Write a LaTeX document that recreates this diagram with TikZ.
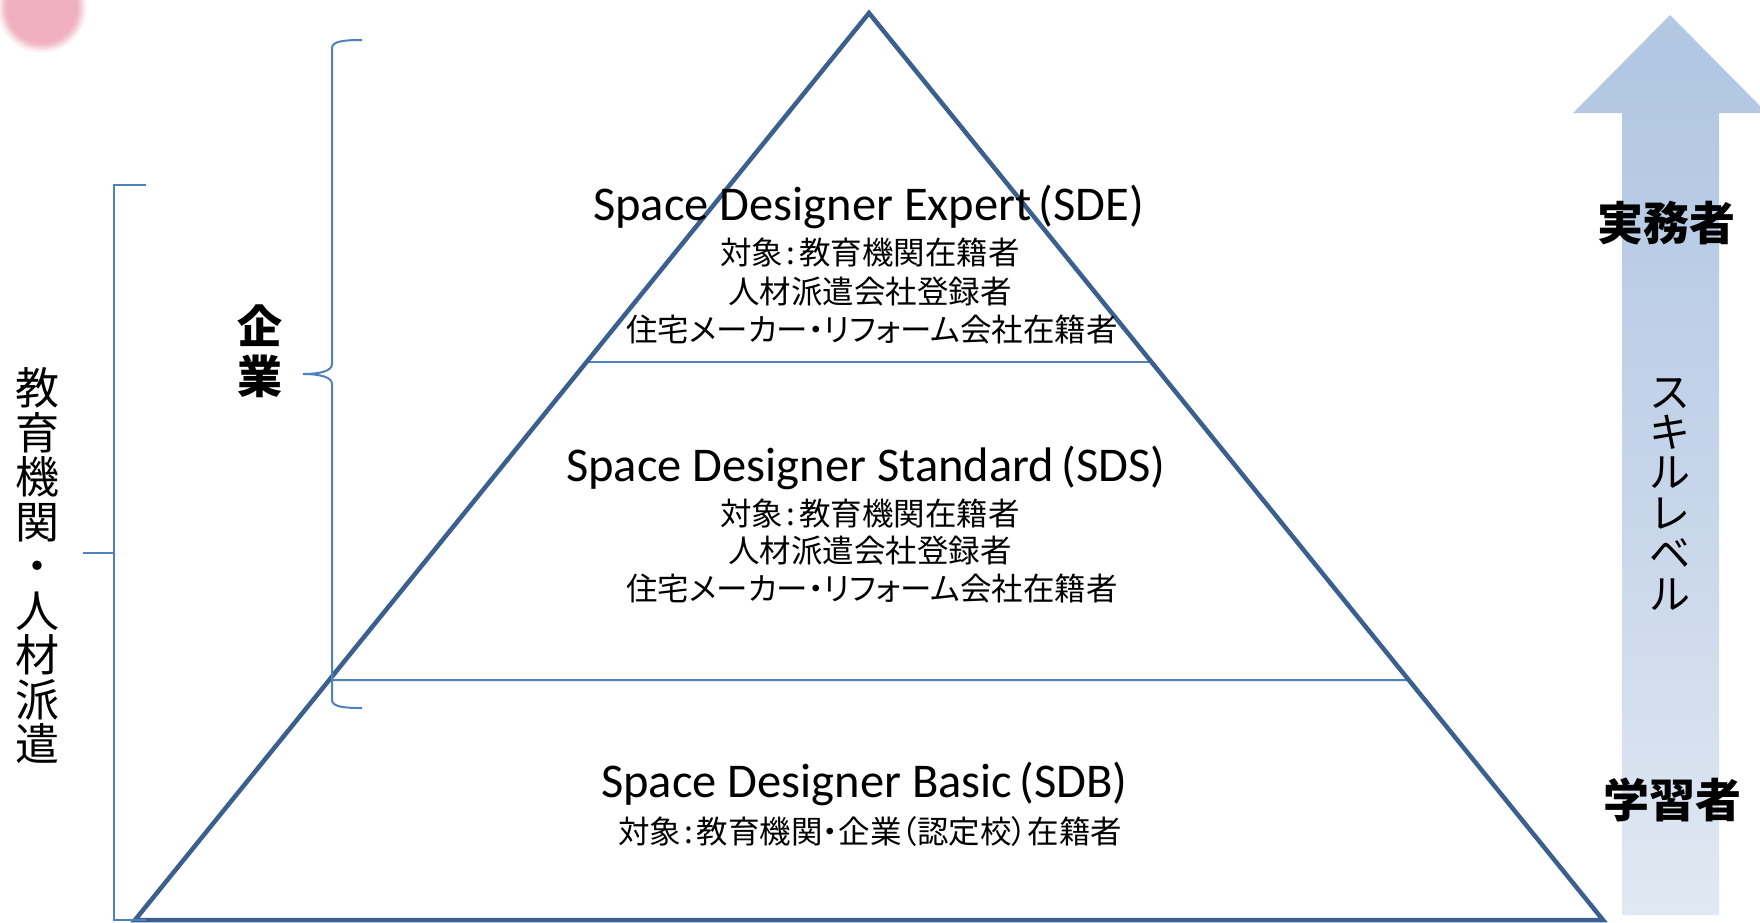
\documentclass[tikz,border=0pt]{standalone}
\usepackage{fontspec}
\usetikzlibrary{calc}
\setmainfont{Carlito}
\newfontfamily\jp{Noto Sans CJK JP}
\newfontfamily\jpp{Noto Sans CJK JP}[RawFeature=+palt]
\newcommand{\jcolon}{\makebox[.5em]{:}}
\newcommand{\abbr}[1]{\hspace{0.15em}(#1)}

\definecolor{triblue}{RGB}{59,95,143}
\definecolor{lineblue}{RGB}{79,129,189}
\definecolor{pinkdot}{RGB}{240,176,192}
\definecolor{fadeA}{RGB}{252,253,255}
\definecolor{fadeB}{RGB}{226,233,243}
\definecolor{fadeC}{RGB}{197,212,233}
\definecolor{fadeD}{RGB}{178,199,227}
\definecolor{fadeE}{RGB}{184,203,229}
\definecolor{fadeF}{RGB}{200,215,234}

\pgfdeclareverticalshading{skillfade}{100bp}{%
  color(0bp)=(fadeA); color(24bp)=(fadeB); color(50bp)=(fadeC);
  color(72bp)=(fadeD); color(88bp)=(fadeE); color(100bp)=(fadeF)}

\begin{document}
\begin{tikzpicture}[x=1pt,y=-1pt,
  tri/.style={draw=triblue, line width=4.5pt, line join=miter},
  tier/.style={draw=lineblue, line width=2pt},
  bracket/.style={draw=lineblue, line width=2pt},
  ttl/.style={inner sep=0pt, anchor=base west, font=\fontsize{48.5}{54}\selectfont},
  sub/.style={inner sep=0pt, anchor=base, font=\jpp\fontsize{31.5}{38}\selectfont},
  vtext/.style={inner sep=0pt, align=center},
  boldlbl/.style={inner sep=0pt, font=\jp\bfseries\fontsize{46}{50}\selectfont}]

\useasboundingbox (0,0) rectangle (1760,922);

% soft pink dot in the corner
\foreach \r/\o in {45/0.12, 43/0.22, 41/0.32, 39/0.45, 37/0.65, 35/1}
  \fill[pinkdot, opacity=\o] (42,8) circle[radius=\r pt];

% skill level arrow
\shade[shading=skillfade]
  (1622,915) -- (1622,113) -- (1573,113) -- (1670,15) -- (1767,113)
  -- (1719,113) -- (1719,915) -- cycle;

% pyramid corners and tier boundaries
\coordinate (apex) at (869,13);
\coordinate (bl) at (135,920);
\coordinate (br) at (1603,920);
\coordinate (t1l) at ($(apex)!{349/907}!(bl)$);
\coordinate (t1r) at ($(apex)!{349/907}!(br)$);
\coordinate (t2l) at ($(apex)!{667/907}!(bl)$);
\coordinate (t2r) at ($(apex)!{667/907}!(br)$);

\draw[tier] (t1l) -- (t1r);
\draw[tier] (332,680) -- (t2r);
\draw[tri] (apex) -- (br) -- (bl) -- cycle;

% brace for companies
\draw[bracket] (362,40) .. controls (345,40) and (332,41) .. (332,48)
  -- (332,364) .. controls (332,371) and (320,374) .. (303,374)
  .. controls (320,374) and (332,377) .. (332,384)
  -- (332,700) .. controls (332,707) and (345,708) .. (362,708);

% bracket for schools and staffing agencies
\draw[bracket] (146,185) -- (114,185) -- (114,920) -- (146,920);
\draw[bracket] (114,553) -- (83,553);

% tier texts
\node[ttl] (sdeT) at (593,220) {Space Designer Expert\abbr{SDE}};
\node[sub] (sdeA) at (870,264) {対象\jcolon 教育機関在籍者};
\node[sub] (sdeB) at (870,303) {人材派遣会社登録者};
\node[sub] (sdeC) at (872,341) {住宅メーカー・リフォーム会社在籍者};

\node[ttl] (sdsT) at (566,481) {Space Designer Standard\abbr{SDS}};
\node[sub] (sdsA) at (870,525) {対象\jcolon 教育機関在籍者};
\node[sub] (sdsB) at (870,562) {人材派遣会社登録者};
\node[sub] (sdsC) at (872,600) {住宅メーカー・リフォーム会社在籍者};

\node[ttl] (sdbT) at (601,797) {Space Designer Basic\abbr{SDB}};
\node[sub] (sdbA) at (870,843) {対象\jcolon 教育機関・企業（認定校）在籍者};

% side labels
\node[vtext, font=\jp\fontsize{44}{44.5}\selectfont] (edu) at (37,566)
  {教\\育\\機\\関\\・\\人\\材\\派\\遣};
\node[vtext, font=\jp\bfseries\fontsize{45}{50}\selectfont] (corp) at (260,351)
  {企\\業};
\node[vtext, font=\jp\fontsize{41}{40.4}\selectfont] (skill) at (1670,494)
  {ス\\キ\\ル\\レ\\ベ\\ル};
\node[boldlbl] (pro) at (1666,223) {実務者};
\node[boldlbl] (learn) at (1672,800) {学習者};
\end{tikzpicture}
\end{document}
